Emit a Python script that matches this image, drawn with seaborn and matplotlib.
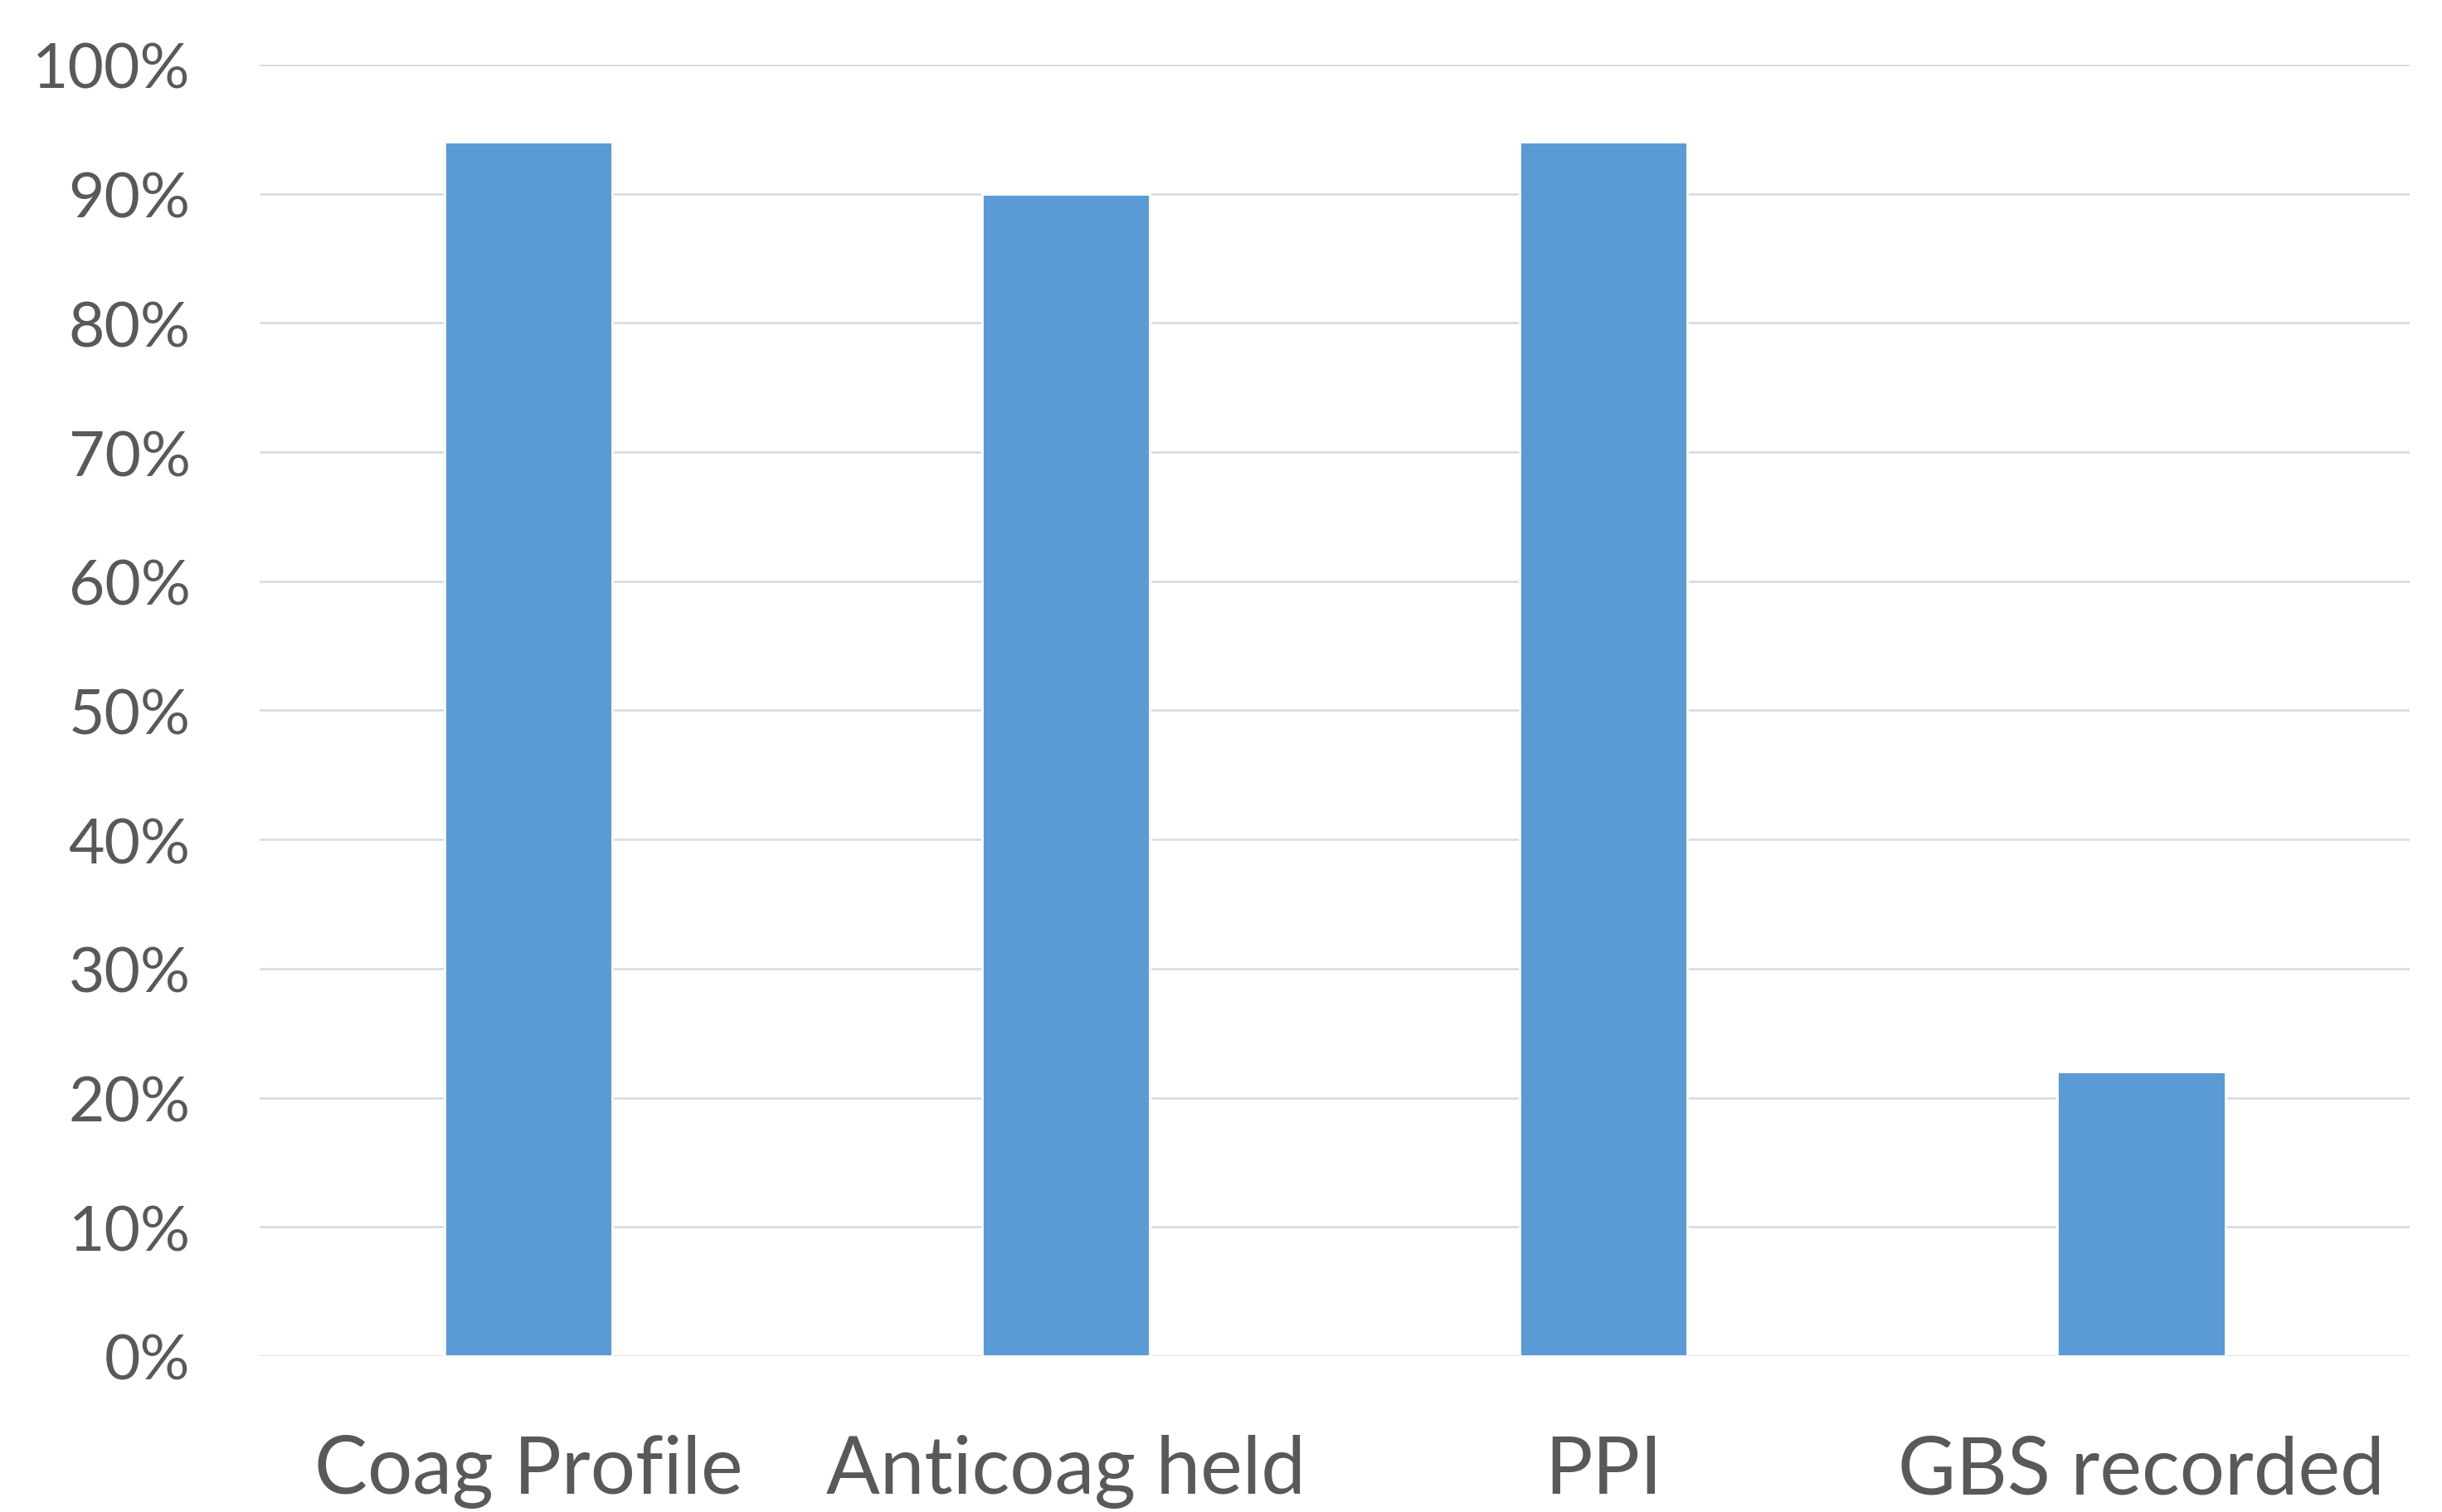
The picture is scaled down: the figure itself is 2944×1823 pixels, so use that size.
import matplotlib
matplotlib.use("Agg")
import matplotlib.pyplot as plt
import seaborn as sns
import pandas as pd

categories = ["Coag Profile", "Anticoag held", "PPI", "GBS recorded"]
values = [94, 90, 94, 22]
y_ticks = [0, 10, 20, 30, 40, 50, 60, 70, 80, 90, 100]
y_tick_labels = [f"{t}%" for t in y_ticks]

sns.set_theme(style="white")
plt.rcParams["font.family"] = ["Lato", "DejaVu Sans"]

df = pd.DataFrame({"category": categories, "value": values})

fig = plt.figure(figsize=(14.72, 9.12), dpi=200)
ax = fig.add_axes([0.1063, 0.1031, 0.8805, 0.8536])

sns.barplot(data=df, x="category", y="value", color="#5B9BD5", saturation=1,
            width=0.313, ax=ax, zorder=3)

ax.set_xlim(-0.5, 3.5)
ax.set_ylim(0, 100)
ax.set_yticks(y_ticks)
ax.set_yticklabels(y_tick_labels)
ax.yaxis.grid(True, color="#d9d9d9", linewidth=0.9, zorder=0)
ax.set_axisbelow(True)
for s in ax.spines.values():
    s.set_visible(False)
ax.set_xlabel("")
ax.set_ylabel("")
ax.tick_params(axis="y", length=0, pad=30, labelsize=27, labelcolor="#595959")
ax.tick_params(axis="x", length=0, pad=34, labelsize=34.5, labelcolor="#595959")

fig.savefig("out.png", dpi=200, facecolor="white")
